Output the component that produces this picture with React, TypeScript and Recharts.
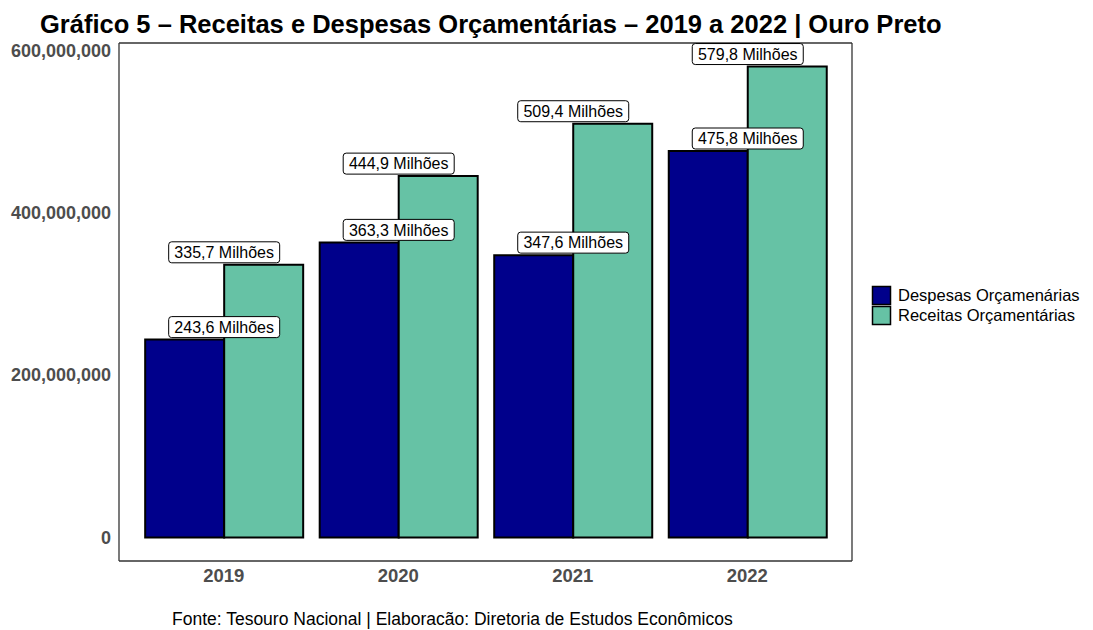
import React from 'react';
import { BarChart, Bar, XAxis, YAxis, CartesianGrid, LabelList } from 'recharts';

const categories = ['2019', '2020', '2021', '2022'];
const despesas = [243.6e6, 363.3e6, 347.6e6, 475.8e6];
const receitas = [335.7e6, 444.9e6, 509.4e6, 579.8e6];
const seriesNames = ['Despesas Orçamenárias', 'Receitas Orçamentárias'];
const seriesColors = ['#00008B', '#66C2A5'];
const yTicks = [0, 200000000, 400000000, 600000000];
const title = 'Gráfico 5 – Receitas e Despesas Orçamentárias – 2019 a 2022 | Ouro Preto';
const source = 'Fonte: Tesouro Nacional | Elaboracão: Diretoria de Estudos Econômicos';

const data = categories.map((c, i) => ({ year: c, despesas: despesas[i], receitas: receitas[i] }));
const maxVal = Math.max(...despesas, ...receitas);
const yDomain = [-0.05 * maxVal, 1.05 * maxVal];

const FONT = '"Liberation Sans", Arial, Helvetica, sans-serif';

const fmtLabel = (v: number) => (v / 1e6).toFixed(1).replace('.', ',') + ' Milhões';
const fmtTick = (v: number) => v.toLocaleString('en-US');

const makeLabel = (side: 'left' | 'right') => (props: any) => {
  const x = Number(props.x);
  const y = Number(props.y);
  const width = Number(props.width);
  const cx = side === 'left' ? x + width : x;
  const w = 111;
  const h = 21;
  const bottom = y - 2;
  return (
    <g>
      <rect x={cx - w / 2} y={bottom - h} width={w} height={h} rx={3} ry={3} fill="#ffffff" stroke="#000000" strokeWidth={1} />
      <text x={cx} y={bottom - h / 2 + 5.7} textAnchor="middle" fontSize={16} fontFamily={FONT} fill="#000000">
        {fmtLabel(Number(props.value))}
      </text>
    </g>
  );
};

export default function App() {
  return (
    <div style={{ position: 'absolute', left: 0, top: 0, width: 1093, height: 630, background: '#ffffff' }}>
      <BarChart
        width={1093}
        height={630}
        data={data}
        margin={{ top: 43, right: 241, left: 19, bottom: 39 }}
        barCategoryGap="5%"
        barGap={0}
      >
        <CartesianGrid
          stroke="#333333"
          strokeWidth={1.3}
          horizontalCoordinatesGenerator={(p: any) => [p.offset.top, p.offset.top + p.offset.height]}
          verticalCoordinatesGenerator={(p: any) => [p.offset.left, p.offset.left + p.offset.width]}
        />
        <XAxis
          dataKey="year"
          type="category"
          height={30}
          padding={{ left: 17.45, right: 17.45 }}
          axisLine={false}
          tickLine={false}
          tick={{ fill: '#4d4d4d', fontSize: 18.5, fontWeight: 'bold', fontFamily: FONT }}
        />
        <YAxis
          type="number"
          width={100}
          domain={yDomain}
          allowDataOverflow
          ticks={yTicks}
          tickFormatter={fmtTick}
          axisLine={false}
          tickLine={false}
          tick={{ fill: '#4d4d4d', fontSize: 18, fontWeight: 'bold', fontFamily: FONT }}
        />
        <Bar dataKey="despesas" fill={seriesColors[0]} stroke="#000000" strokeWidth={2} isAnimationActive={false}>
          <LabelList dataKey="despesas" content={makeLabel('left')} />
        </Bar>
        <Bar dataKey="receitas" fill={seriesColors[1]} stroke="#000000" strokeWidth={2} isAnimationActive={false}>
          <LabelList dataKey="receitas" content={makeLabel('right')} />
        </Bar>
      </BarChart>
      <svg width={1093} height={630} style={{ position: 'absolute', left: 0, top: 0, pointerEvents: 'none' }}>
        <text x={40} y={33} fontSize={25.5} fontWeight="bold" fontFamily={FONT} fill="#000000">{title}</text>
        <text x={172} y={625} fontSize={17.5} fontFamily={FONT} fill="#000000">{source}</text>
        {seriesNames.map((n, i) => (
          <g key={n}>
            <rect x={872.5} y={286.5 + i * 20} width={18} height={18} fill={seriesColors[i]} stroke="#000000" strokeWidth={1.5} />
            <text x={898} y={301 + i * 20} fontSize={16.5} fontFamily={FONT} fill="#000000">{n}</text>
          </g>
        ))}
      </svg>
    </div>
  );
}
